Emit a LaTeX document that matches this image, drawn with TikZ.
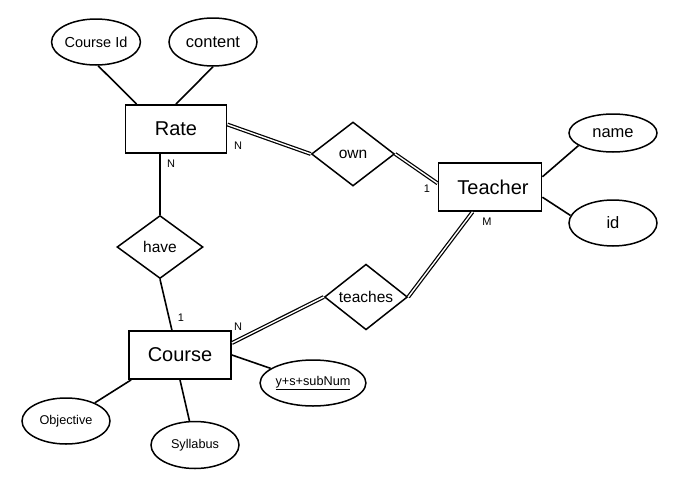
\documentclass[tikz,border=0pt]{standalone}
\usepackage{fontspec}
\setmainfont{Liberation Sans}
\usetikzlibrary{shapes.geometric,calc}
\begin{document}
\begin{tikzpicture}[x=1pt,y=-1pt,
  ent/.style={draw,line width=1.8pt,rectangle,minimum width=101pt,minimum height=48pt,inner sep=0pt,font=\fontsize{20}{22}\selectfont},
  rel/.style={draw,line width=1.5pt,diamond,minimum width=84pt,minimum height=64pt,inner sep=0pt,font=\fontsize{15.5}{17}\selectfont},
  attr/.style={draw,line width=1.5pt,ellipse,minimum width=88pt,minimum height=46pt,inner sep=0pt,font=\fontsize{16.5}{18}\selectfont},
  sattr/.style={attr,font=\fontsize{12.7}{14}\selectfont},
  conn/.style={line width=1.6pt},
  dconn/.style={line width=1.25pt,double,double distance=1.4pt},
  card/.style={font=\fontsize{11}{12}\selectfont,inner sep=0pt}]
\useasboundingbox[fill=white] (0,0) rectangle (678,488);
% entities
\node[ent] (rate) at (176,129) {Rate};
\node[ent,minimum width=103pt] (teacher) at (490,187) {\hspace{6pt}Teacher};
\node[ent,minimum width=102pt] (course) at (180,355) {Course};
% relations
\node[rel,minimum width=83pt] (own) at (353,154) {own};
\node[rel,minimum width=86pt,minimum height=63pt] (have) at (160,247) {have};
\node[rel,minimum width=83pt,minimum height=63pt] (teaches) at (366,297) {teaches};
% attributes
\node[attr,font=\fontsize{14.5}{16}\selectfont,minimum width=87pt] (cid) at (96,42) {Course Id};
\node[attr,minimum height=48pt] (content) at (213,42) {content};
\node[attr,minimum height=38pt] (name) at (613,133) {name};
\node[attr] (id) at (613,223) {id};
\node[sattr] (ysub) at (313,383) {\underline{y+s+subNum}};
\node[sattr] (obj) at (66,421) {Objective};
\node[sattr,minimum height=47pt] (syl) at (195,445) {Syllabus};
% connectors
\draw[conn] ([xshift=12pt]rate.north west) -- (cid.-85);
\draw[conn] (rate.north) -- (content.south);
\draw[dconn] (rate.5) -- (own.west);
\draw[dconn] (own.east) -- (teacher.176);
\draw[conn] (rate.south -| have.north) -- (have.north);
\draw[conn] (have.south) -- (course.108);
\draw[dconn] (course.13) -- (teaches.west);
\draw[dconn] (teaches.east) -- (teacher.-125);
\draw[conn] (teacher.11) -- (name.-160);
\draw[conn] (teacher.-11) -- (id.170);
\draw[conn] (course.east) -- (ysub);
\draw[conn] ([xshift=3pt]course.south west) -- (obj);
\draw[conn] (course.south) -- (syl);
% cardinalities
\node[card] (c1) at (238,146) {N};
\node[card] (c2) at (171,164) {N};
\node[card] (c3) at (427,189) {1};
\node[card] (c4) at (487,222) {M};
\node[card] (c5) at (181,318) {1};
\node[card] (c6) at (238,327) {N};
\end{tikzpicture}
\end{document}
